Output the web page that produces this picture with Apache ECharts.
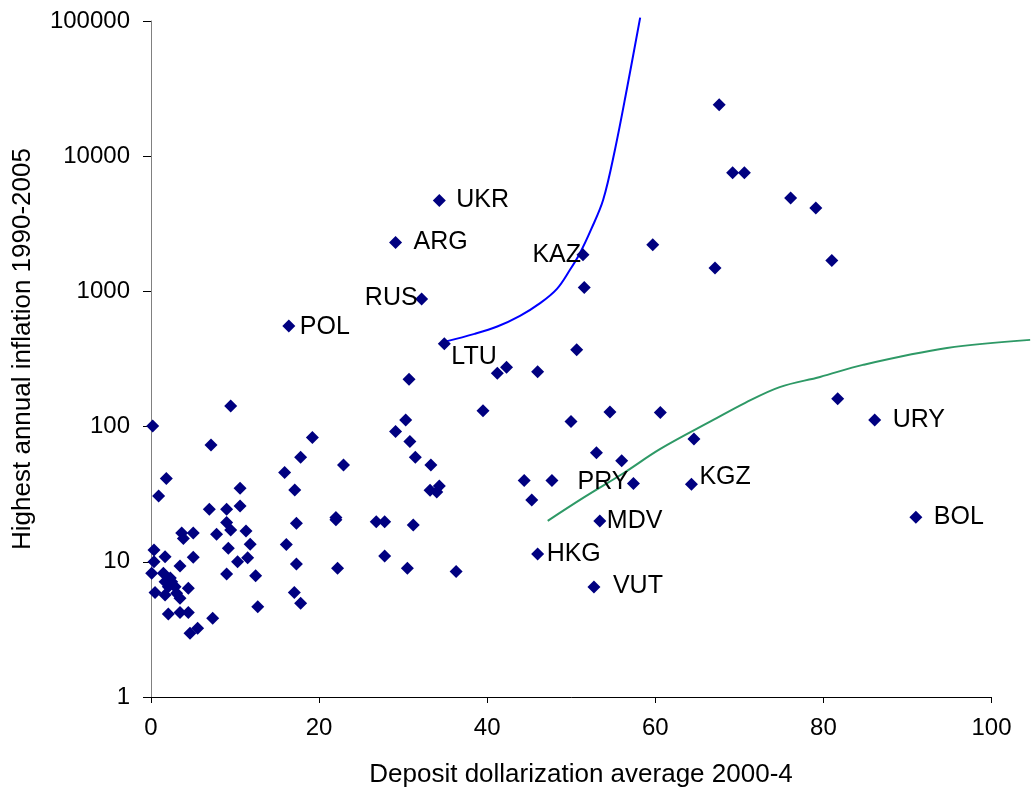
<!DOCTYPE html>
<html>
<head>
<meta charset="utf-8">
<script src="https://cdn.jsdelivr.net/npm/echarts@6/dist/echarts.min.js"></script>
<style>
html,body{margin:0;padding:0;background:#fff;}
#chart{width:1031px;height:794px;}
</style>
</head>
<body>
<div id="chart"></div>
<script>
// ---- Data ----
const codes = ['UKR','ARG','RUS','POL','LTU','KAZ','PRY','MDV','HKG','VUT','KGZ','URY','BOL'];
const dollarization = [
  34.3, 29.1, 32.2, 16.4, 34.9, 51.4, 57.4, 53.4, 46.0, 52.7, 64.3, 86.1, 91.0,
  67.6, 69.2, 70.6, 76.1, 79.1, 59.7, 67.1, 81.0, 51.55, 50.65, 41.2, 42.3, 46.0, 39.5, 49.97, 54.6, 60.6,
  30.7, 81.7, 64.6, 53.0, 56.0, 44.4, 47.7, 45.3, 30.3, 29.1, 30.8, 19.2, 17.8, 15.9, 22.9, 31.45, 33.3,
  17.1, 33.2, 34.3, 34.0, 17.3, 22.0, 22.0, 26.8, 27.8, 31.2, 16.1, 17.3, 27.8, 22.2, 30.5, 36.3, 17.05, 17.8,
  9.48, 0.2, 7.14, 1.82, 0.91, 10.6, 6.94, 9.0, 10.6, 9.0, 9.48, 11.3, 11.8, 3.65, 5.03, 3.85, 7.8, 9.2,
  10.3, 11.5, 9.0, 12.45, 12.7, 7.34, 5.55, 4.64, 0.36, 1.67, 0.36, 5.03, 3.45, 0.08, 1.47, 1.67, 2.46,
  2.06, 2.86, 3.05, 3.45, 4.44, 0.48, 1.67, 2.06, 3.45, 4.44, 2.3
];
const inflation = [
  4700, 2300, 880, 555, 410, 1870, 38, 20, 11.4, 6.5, 37.5, 112, 21.4,
  24000, 7550, 7550, 4900, 4140, 2210, 1490, 1690, 1070, 370, 248, 275, 255, 131, 109, 128, 127,
  224, 161, 81, 64, 56, 40, 40, 28.7, 112, 92, 77.5, 83, 59.4, 45.7, 52, 59.4, 52,
  34, 33.8, 36.3, 32.8, 19.3, 21.3, 20.5, 19.8, 19.8, 18.75, 13.4, 9.65, 11.05, 8.96, 8.96, 8.46, 5.92, 4.94,
  142, 101, 73, 41.3, 30.7, 35, 24.5, 24.5, 25.9, 19.5, 17.2, 16.9, 13.5, 16.3, 16.3, 14.9, 16.0, 12.6,
  10.0, 10.7, 8.13, 7.9, 4.66, 3.82, 3.22, 2.96, 12.2, 10.9, 10.0, 10.8, 9.32, 8.23, 8.23, 7.13, 7.13,
  6.55, 6.55, 5.85, 5.38, 6.37, 5.92, 5.69, 4.11, 4.21, 4.21, 7.6
];
const blueX = [35.0, 38.5, 41.2, 43.9, 46.3, 48.3, 49.85, 51.0, 52.35, 53.8, 55.2, 56.6, 58.2];
const blueY = [425, 485, 550, 660, 819, 1045, 1445, 1900, 2860, 4760, 11170, 31000, 106000];
const greenX = [47.2, 51.6, 56.2, 60.6, 66.9, 70.7, 74.8, 79.6, 84.7, 94.7, 104.6];
const greenY = [20.1, 30.2, 45.2, 68.4, 112, 150, 196, 233, 286, 381, 438];
const xTicks = [0, 20, 40, 60, 80, 100];
const yTicks = [1, 10, 100, 1000, 10000, 100000];
const xTitle = 'Deposit dollarization average 2000-4';
const yTitle = 'Highest annual inflation 1990-2005';

// ---- Label placement (style only) ----
const labelPlace = {
  UKR: [17, 0, 'left'], ARG: [18, 0, 'left'], RUS: [-4, -1, 'right'], POL: [11, 1, 'left'],
  LTU: [7, 13, 'left'], KAZ: [-2, 0, 'right'], PRY: [-5, -1, 'right'], MDV: [7, 0, 'left'],
  HKG: [9, 0, 'left'], VUT: [19, -1, 'left'], KGZ: [8, -7, 'left'], URY: [18, 0, 'left'],
  BOL: [18, 0, 'left']
};

const FONT = '"Liberation Sans", Arial, sans-serif';
const W = 1031, H = 794;
const G = { left: 151, right: 39.5, top: 21, bottom: 97 };
const xMin = xTicks[0], xMax = xTicks[xTicks.length - 1];
const yDecades = Math.log10(yTicks[yTicks.length - 1] / yTicks[0]);
const pxPerX = (W - G.left - G.right) / (xMax - xMin);
const pxPerDec = (H - G.top - G.bottom) / yDecades;
// overlay grid extends to the right and top edges so curves may run past the plot area
const x2Max = xMin + (W - G.left) / pxPerX;
const y2Max = yTicks[0] * Math.pow(10, (H - G.bottom) / pxPerDec);

const scatterData = dollarization.map((x, i) => {
  const item = { value: [x, inflation[i]] };
  const c = codes[i];
  if (c) {
    const p = labelPlace[c];
    item.label = {
      show: true, formatter: c, position: 'inside', align: p[2], verticalAlign: 'middle',
      offset: [p[0], p[1]], color: '#000', fontSize: 25, fontFamily: FONT
    };
  }
  return item;
});

const chart = echarts.init(document.getElementById('chart'), null, { renderer: 'canvas' });
chart.setOption({
  animation: false,
  backgroundColor: '#fff',
  grid: [
    { left: G.left, right: G.right, top: G.top, bottom: G.bottom, containLabel: false },
    { left: G.left, right: 0, top: 0, bottom: G.bottom, containLabel: false }
  ],
  xAxis: [{
    type: 'value', gridIndex: 0, min: xMin, max: xMax, interval: 20,
    splitLine: { show: false },
    axisLine: { show: true, onZero: false, lineStyle: { color: '#000', width: 1 } },
    axisTick: { show: true, inside: false, length: 6, lineStyle: { color: '#000' } },
    axisLabel: { color: '#000', fontSize: 24, fontFamily: FONT, margin: 19 }
  }, {
    type: 'value', gridIndex: 1, min: xMin, max: x2Max, show: false, splitLine: { show: false }
  }],
  yAxis: [{
    type: 'log', gridIndex: 0, logBase: 10, min: yTicks[0], max: yTicks[yTicks.length - 1],
    splitLine: { show: false },
    axisLine: { show: true, lineStyle: { color: '#808080', width: 1 } },
    axisTick: { show: true, inside: false, length: 8, lineStyle: { color: '#000' } },
    axisLabel: { color: '#000', fontSize: 24, fontFamily: FONT, margin: 21,
      formatter: v => String(Math.round(v)) }
  }, {
    type: 'log', gridIndex: 1, logBase: 10, min: yTicks[0], max: y2Max, show: false, splitLine: { show: false }
  }],
  graphic: [
    { type: 'text', x: 581, y: 775, style: { text: xTitle, fill: '#000', fontSize: 26, fontFamily: FONT, textAlign: 'center', textVerticalAlign: 'middle' } },
    { type: 'text', x: 23, y: 349, rotation: Math.PI / 2, style: { text: yTitle, fill: '#000', fontSize: 26, fontFamily: FONT, textAlign: 'center', textVerticalAlign: 'middle' } }
  ],
  series: [
    {
      type: 'line', xAxisIndex: 1, yAxisIndex: 1, data: blueX.map((x, i) => [x, blueY[i]]),
      smooth: 0.35, showSymbol: false,
      lineStyle: { color: '#0000ff', width: 2 }, z: 1, silent: true
    },
    {
      type: 'line', xAxisIndex: 1, yAxisIndex: 1, data: greenX.map((x, i) => [x, greenY[i]]),
      smooth: 0.35, showSymbol: false,
      lineStyle: { color: '#2e9966', width: 2 }, z: 1, silent: true
    },
    {
      type: 'scatter', xAxisIndex: 0, yAxisIndex: 0, data: scatterData, symbol: 'diamond', symbolSize: 13,
      itemStyle: { color: '#000080', opacity: 1 }, z: 3
    }
  ]
});
</script>
</body>
</html>
